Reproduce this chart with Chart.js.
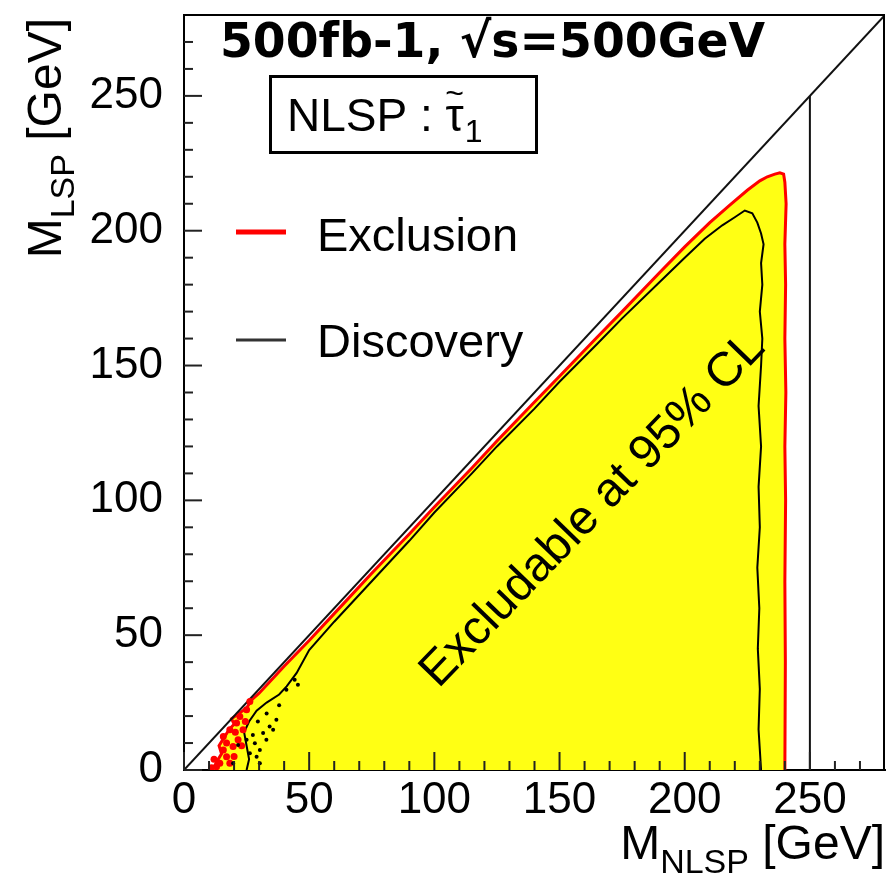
<!DOCTYPE html>
<html>
<head>
<meta charset="utf-8">
<script src="https://cdn.jsdelivr.net/npm/chart.js@4.4.1/dist/chart.umd.min.js"></script>
<style>
    html, body { margin: 0; padding: 0; background: #fff; }
    canvas { display: block; }
</style>
</head>
<body>
<canvas id="myChart" width="889" height="877"></canvas>
<script>
// --- Data ---
const xTickStep = 50
const axisMax = 280

// exclusion contour (red, filled yellow)
const exclX = [10, 12, 13, 15, 14, 16, 18, 20, 19, 22, 25, 27, 30, 35, 40, 50, 60, 75, 90, 100, 115, 125, 140, 150, 165, 175, 190, 200, 210, 218, 225, 230, 233, 236, 238, 239.5, 240, 240.5, 240, 240.3, 240, 240.4, 240, 240.3, 240, 240.2, 240]
const exclY = [0, 1, 3, 6, 9, 12, 15, 17, 19, 21, 23, 26, 28.5, 33.5, 38.5, 48, 58, 73, 87.5, 97.5, 112, 122, 136.5, 146, 160.5, 170, 184.5, 194, 203, 209.5, 215, 218.5, 220, 221, 221.5, 221, 218, 210, 195, 180, 160, 140, 120, 100, 70, 40, 0]

// discovery contour (black)
const discX = [25, 26, 25, 24, 26, 29, 33, 38, 41, 45, 50, 60, 75, 90, 100, 115, 125, 140, 150, 165, 175, 190, 200, 208, 215, 220, 224, 227, 229, 230.5, 231.5, 230.5, 231, 230, 231, 230.5, 229.5, 230.5, 229.5, 230, 229, 229.8, 229.2, 230, 229.5, 230.5]
const discY = [0, 4, 9, 14, 18, 22, 25, 28, 31, 36, 44.5, 55, 70, 85, 95.5, 110, 120, 134, 144, 158, 167.5, 181, 190, 197, 202, 205, 207.5, 206.5, 203, 199, 195, 188, 180, 170, 160, 150, 135, 120, 105, 90, 75, 60, 45, 30, 15, 0]

// noisy islands near the origin
const redDotsX = [15.7, 18.3, 21, 22.3, 25, 26.3, 19.6, 17, 14.3, 18.3, 21.6, 23.6, 13, 15.7, 20, 23, 12, 17, 11, 24.5, 20.5]
const redDotsY = [12.4, 14.9, 17.4, 19.8, 22.3, 25.4, 8.7, 4.9, 2.5, 2.5, 11.2, 14.9, 1.2, 7.4, 5, 9, 4, 10, 0.8, 18, 14]
const blackDotsX = [44.2, 45.5, 40.9, 36.9, 35.6, 32.9, 30.3, 29, 30.3, 34.2, 31.6, 28.3, 26.3, 25, 19.6, 21.6, 27.5, 29.5, 33, 38]
const blackDotsY = [33.5, 31.6, 29.8, 18.6, 14.9, 11.2, 7.4, 4.9, 2.5, 16.1, 13.7, 9.9, 6.2, 11.2, 2.5, 9.3, 13, 18, 21, 24]

// kinematic limits
const diagX = [0, 280]
const diagY = [0, 280]
const limitX = [250, 250]
const limitY = [0, 250]

function pts(xs, ys) {
    return xs.map((x, i) => ({ x: x, y: ys[i] }))
}

// --- Text / frame plugin ---
const FONT = '"Liberation Sans", Arial, sans-serif'

const decor = {
    id: 'decor',
    afterDatasetsDraw(chart) {
        const c = chart.ctx
        const a = chart.chartArea
        const xs = chart.scales.x
        const ys = chart.scales.y
        c.save()

        // frame
        c.strokeStyle = '#000'
        c.lineWidth = 2
        c.beginPath()
        c.moveTo(a.left, a.top)
        c.lineTo(a.right - 1, a.top)
        c.lineTo(a.right - 1, a.bottom)
        c.stroke()

        // inward ticks
        c.lineWidth = 2
        c.strokeStyle = '#222'
        for (let v = 0; v < axisMax; v += 10) {
            const len = v % 50 == 0 ? 18 : 9
            const px = xs.getPixelForValue(v)
            c.beginPath()
            c.moveTo(px, a.bottom)
            c.lineTo(px, a.bottom - len)
            c.stroke()
            const py = ys.getPixelForValue(v)
            c.beginPath()
            c.moveTo(a.left, py)
            c.lineTo(a.left + len, py)
            c.stroke()
        }

        c.fillStyle = '#000'
        c.textBaseline = 'alphabetic'

        // x title
        let big = '48px ' + FONT, small = '34px ' + FONT
        c.font = big
        let w1 = c.measureText('M').width
        let w3 = c.measureText(' [GeV]').width
        c.font = small
        let w2 = c.measureText('NLSP').width
        let x0 = 885 - (w1 + w2 + w3)
        c.font = big
        c.textAlign = 'left'
        c.fillText('M', x0, 859)
        c.font = small
        c.fillText('NLSP', x0 + w1, 873)
        c.font = big
        c.fillText(' [GeV]', x0 + w1 + w2, 859)

        // y title
        c.save()
        c.translate(61, 18)
        c.rotate(-Math.PI / 2)
        c.font = small
        w2 = c.measureText('LSP').width
        c.font = big
        x0 = -(w1 + w2 + w3)
        c.fillText('M', x0, 0)
        c.font = small
        c.fillText('LSP', x0 + w1, 13)
        c.font = big
        c.fillText(' [GeV]', x0 + w1 + w2, 0)
        c.restore()

        // title
        c.font = 'bold 48px "DejaVu Sans"'
        const title = '500fb-1, √s=500GeV'
        const tw = c.measureText(title).width
        c.save()
        c.translate(220, 57)
        c.scale(545 / tw, 1)
        c.fillText(title, 0, 0)
        c.restore()

        // NLSP box
        c.lineWidth = 3
        c.strokeStyle = '#000'
        c.strokeRect(270.5, 76.5, 266, 76)
        c.font = '46px ' + FONT
        c.fillText('NLSP : ', 287, 131)
        const nw = c.measureText('NLSP : ').width
        c.fillText('τ', 287 + nw, 131)
        const tauW = c.measureText('τ').width
        c.font = '32px ' + FONT
        c.textAlign = 'center'
        c.fillText('~', 287 + nw + tauW / 2, 104)
        c.textAlign = 'left'
        c.font = '32px ' + FONT
        c.fillText('1', 287 + nw + tauW + 1, 142)

        // legend
        c.lineWidth = 5
        c.strokeStyle = '#ff0000'
        c.beginPath()
        c.moveTo(236, 232)
        c.lineTo(286, 232)
        c.stroke()
        c.lineWidth = 3
        c.strokeStyle = '#333'
        c.beginPath()
        c.moveTo(236, 340)
        c.lineTo(286, 340)
        c.stroke()
        c.font = '47px ' + FONT
        c.fillText('Exclusion', 317, 251)
        c.fillText('Discovery', 317, 357)

        // rotated label
        c.save()
        c.translate(593, 510)
        c.rotate(-46 * Math.PI / 180)
        c.textAlign = 'center'
        c.textBaseline = 'middle'
        c.font = '48px ' + FONT
        c.fillText('Excludable at 95% CL', 0, 0)
        c.restore()

        c.restore()
    }
}

// --- Chart ---
const ctx = document.getElementById('myChart').getContext('2d')

const tickFont = { family: FONT, size: 44 }

const myChart = new Chart(ctx, {
    type: 'scatter',
    data: {
        datasets: [
            {
                label: 'black dots',
                data: pts(blackDotsX, blackDotsY),
                backgroundColor: '#000',
                borderWidth: 0,
                pointRadius: 2
            },
            {
                label: 'red dots',
                data: pts(redDotsX, redDotsY),
                backgroundColor: '#ff0000',
                borderWidth: 0,
                pointRadius: 3.5
            },
            {
                label: 'Discovery',
                data: pts(discX, discY),
                showLine: true,
                borderColor: '#000',
                borderWidth: 2,
                pointRadius: 0
            },
            {
                label: 'diagonal',
                data: pts(diagX, diagY),
                showLine: true,
                borderColor: '#111',
                borderWidth: 2,
                pointRadius: 0
            },
            {
                label: 'limit',
                data: pts(limitX, limitY),
                showLine: true,
                borderColor: '#111',
                borderWidth: 2,
                pointRadius: 0
            },
            {
                label: 'Exclusion',
                data: pts(exclX, exclY),
                showLine: true,
                fill: 'shape',
                backgroundColor: 'rgb(255, 255, 20)',
                borderColor: '#ff0000',
                borderWidth: 3,
                pointRadius: 0
            }
        ]
    },
    options: {
        responsive: false,
        animation: false,
        devicePixelRatio: 1,
        layout: { padding: { top: 15, right: 1, left: 0, bottom: 0 } },
        plugins: {
            legend: { display: false },
            tooltip: { enabled: false }
        },
        scales: {
            x: {
                type: 'linear',
                min: 0,
                max: axisMax,
                grid: { display: false, drawTicks: false },
                border: { color: '#000', width: 2 },
                ticks: { stepSize: xTickStep, includeBounds: false, font: tickFont, color: '#000', padding: 4, maxRotation: 0 },
                afterFit: s => { s.height = 107; s.paddingLeft = 0; s.paddingRight = 0 }
            },
            y: {
                type: 'linear',
                min: 0,
                max: axisMax,
                grid: { display: false, drawTicks: false },
                border: { color: '#000', width: 2 },
                ticks: { stepSize: xTickStep, includeBounds: false, font: tickFont, color: '#000', padding: 21 },
                afterFit: s => { s.width = 184; s.paddingTop = 0; s.paddingBottom = 0 }
            }
        }
    },
    plugins: [decor]
})
</script>
</body>
</html>
